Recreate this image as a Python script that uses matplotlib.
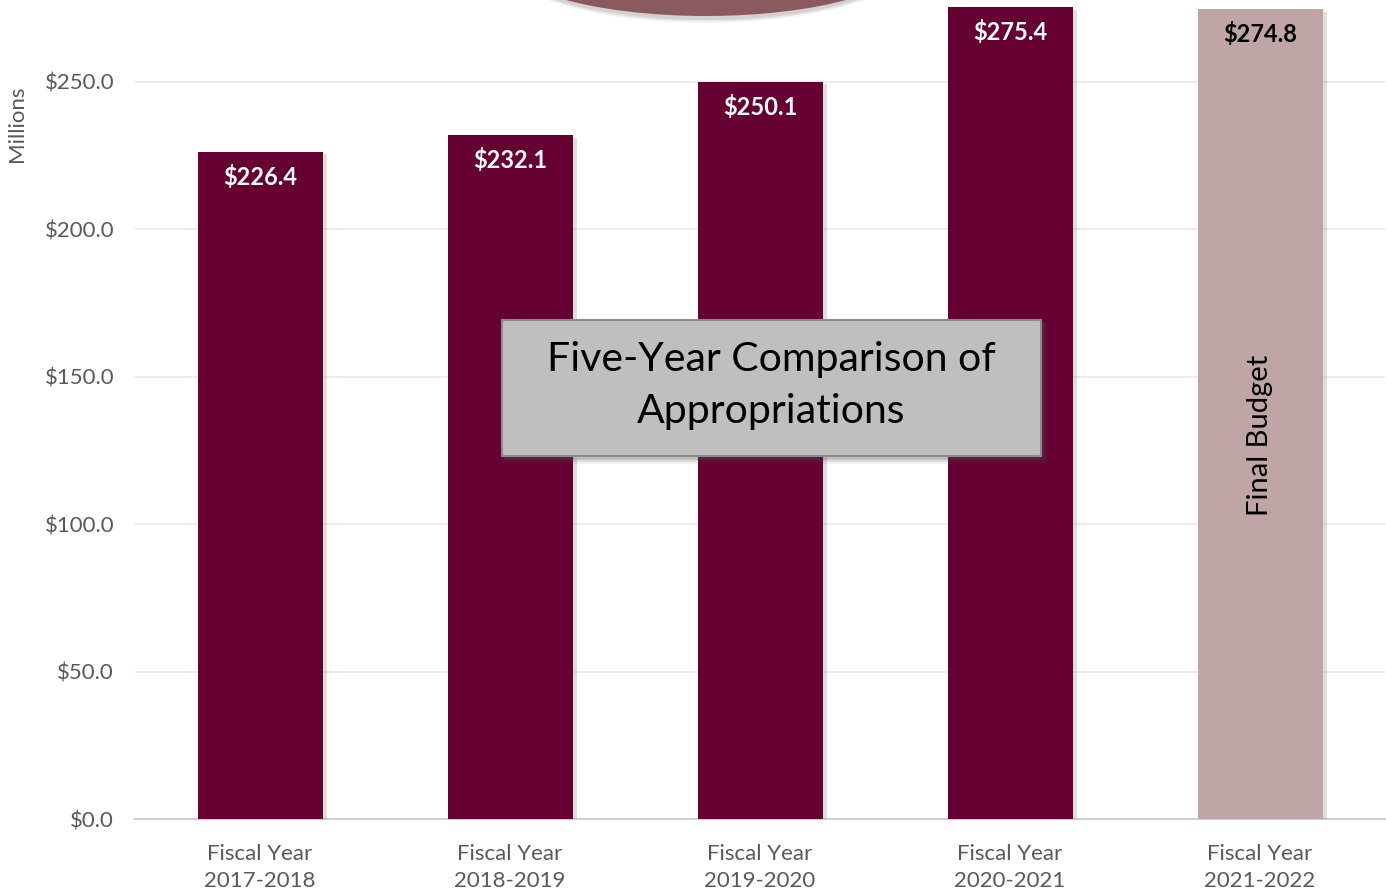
import matplotlib
matplotlib.use("Agg")
import matplotlib.pyplot as plt
import matplotlib.patheffects as pe
from matplotlib.patches import Ellipse, Rectangle

# Data
categories = ["Fiscal Year\n2017-2018", "Fiscal Year\n2018-2019", "Fiscal Year\n2019-2020",
              "Fiscal Year\n2020-2021", "Fiscal Year\n2021-2022"]
appropriations = [226.4, 232.1, 250.1, 275.4, 274.8]
value_labels = ["$226.4", "$232.1", "$250.1", "$275.4", "$274.8"]
yticks = [0, 50, 100, 150, 200, 250]
ytick_labels = ["$0.0", "$50.0", "$100.0", "$150.0", "$200.0", "$250.0"]

FONT = ["Lato", "DejaVu Sans"]
plt.rcParams["font.family"] = FONT

W, H = 1386, 890
fig = plt.figure(figsize=(W / 100, H / 100), dpi=100)
fig.patch.set_facecolor("white")

ax = fig.add_axes([135 / W, 71 / H, 1250 / W, (H - 71) / H])
ax.set_xlim(-0.5, 4.5)
ax.set_ylim(0, 277.8)

colors = ["#660033"] * 4 + ["#bfa5a6"]
shadow = [pe.SimplePatchShadow(offset=(3, -2), shadow_rgbFace="#808080", alpha=0.25), pe.Normal()]
bars = ax.bar(range(len(categories)), appropriations, width=0.5, color=colors, zorder=3)
for b in bars:
    b.set_path_effects(shadow)

for i, (v, lab) in enumerate(zip(appropriations, value_labels)):
    ax.text(i, v - 8.6, lab, ha="center", va="center", fontsize=17, fontweight="bold",
            color="white" if i < 4 else "black", zorder=5)

ax.text(4, 130, "Final Budget", rotation=90, ha="center", va="center", fontsize=21,
        color="black", zorder=5)

ax.set_yticks(yticks)
ax.set_yticklabels(ytick_labels)
ax.set_xticks(range(len(categories)))
ax.set_xticklabels(categories, linespacing=1.45)
ax.tick_params(axis="y", length=0, pad=15, labelsize=16, labelcolor="#595959")
ax.tick_params(axis="x", length=0, pad=18, labelsize=16, labelcolor="#595959")

ax.grid(axis="y", color="#e9e9e9", linewidth=1.2, zorder=0)
ax.set_axisbelow(True)
for s in ["top", "right", "left"]:
    ax.spines[s].set_visible(False)
ax.spines["bottom"].set_color("#d0d0d0")
ax.spines["bottom"].set_linewidth(1.5)

fig.text(17 / W, 1 - 124 / H, "Millions", rotation=90, ha="center", va="center",
         fontsize=16, color="#595959")

# Decorative ellipse at the top edge, with a soft shadow underneath
for grow, alpha in [(8, 0.07), (5, 0.11), (2, 0.16)]:
    s = Ellipse((706 / W, 1 - (16 + 3 - 60) / H), (406 + grow) / W, (120 + grow) / H,
                transform=fig.transFigure, facecolor="#707070", alpha=alpha,
                edgecolor="none", zorder=9)
    fig.patches.append(s)
ell = Ellipse((706 / W, 1 - (16 - 60) / H), 412 / W, 120 / H,
              transform=fig.transFigure, facecolor="#8b5a5e", edgecolor="none", zorder=10)
fig.patches.append(ell)

# Title box
bx0, by0, bx1, by1 = 502, 320, 1041, 456
for grow, alpha in [(6, 0.08), (4, 0.12), (2, 0.2)]:
    bs = Rectangle(((bx0 + 2) / W, 1 - (by1 + 2 + grow) / H), (bx1 - bx0 + grow) / W,
                   (by1 - by0 + grow) / H, transform=fig.transFigure, facecolor="#505050",
                   alpha=alpha, edgecolor="none", zorder=10)
    fig.patches.append(bs)
box = Rectangle((bx0 / W, 1 - by1 / H), (bx1 - bx0) / W, (by1 - by0) / H,
                transform=fig.transFigure, facecolor="#bfbfbf", edgecolor="#8c8c8c",
                linewidth=1.5, zorder=11)
fig.patches.append(box)
fig.text((bx0 + bx1) / 2 / W, 1 - 385 / H, "Five-Year Comparison of\nAppropriations",
         ha="center", va="center", fontsize=29.5, color="black", linespacing=1.5, zorder=12)

fig.savefig("out.png", dpi=100, facecolor="white")
